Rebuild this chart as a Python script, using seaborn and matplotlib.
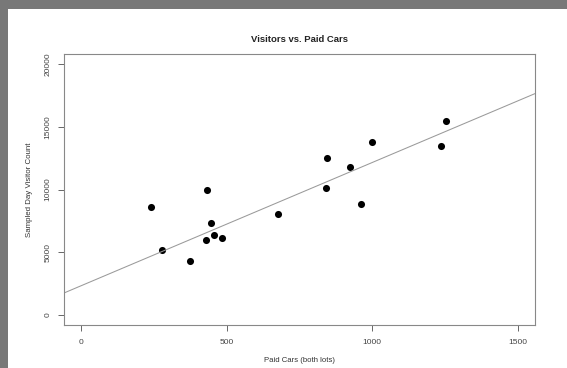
import seaborn as sns
import matplotlib.pyplot as plt
import matplotlib.patches as mpatches
import pandas as pd

# Values
paid_cars = [240, 278, 372, 431, 430, 445, 457, 485, 677,
             843, 841, 924, 963, 1000, 1238, 1255]
visitors = [8570, 5213, 4270, 9995, 5964, 7308, 6340, 6126, 8034,
            12493, 10130, 11768, 8840, 13806, 13484, 15450]
x_ticks = [0, 500, 1000, 1500]
y_ticks = [0, 5000, 10000, 15000, 20000]
# fitted line as drawn in the reference (abline)
fit_intercept = 2340
fit_slope = 9.81

data = pd.DataFrame({"paid_cars": paid_cars, "visitors": visitors})

sns.set_style("white")
plt.rcParams["font.family"] = ["Liberation Sans", "DejaVu Sans"]

fig = plt.figure(figsize=(5.67, 3.68), dpi=100, facecolor="#787878")
# white page inside the grey frame
page = mpatches.Rectangle((8 / 567, 0), 1, 1 - 9 / 368, transform=fig.transFigure,
                          facecolor="white", edgecolor="none", zorder=-10)
fig.add_artist(page)

ax = fig.add_axes([64 / 567, 1 - 325 / 368, 471 / 567, 271 / 368], zorder=1)
ax.patch.set_alpha(0)

sns.scatterplot(data=data, x="paid_cars", y="visitors", ax=ax,
                s=26, color="black", linewidth=0, alpha=1)
ax.axline((0, fit_intercept), slope=fit_slope, color="#9a9a9a", lw=0.75)
ax.set_xlim(-60, 1560)
ax.set_ylim(-800, 20800)

ax.set_xticks(x_ticks)
ax.set_xticklabels([str(v) for v in x_ticks])
ax.set_yticks(y_ticks)
ax.set_yticklabels([str(v) for v in y_ticks], rotation=90, va="center")
ax.tick_params(direction="out", length=4, width=0.7, color="#666666",
               labelsize=6, labelcolor="#444444", bottom=True, left=True)
ax.tick_params(axis="x", pad=6)
ax.tick_params(axis="y", pad=5)
for s in ax.spines.values():
    s.set_color("#888888")
    s.set_linewidth(0.8)

ax.set_xlabel("Paid Cars (both lots)", fontsize=5.6, color="#333333", labelpad=8)
ax.set_ylabel("Sampled Day Visitor Count", fontsize=5.7, color="#333333", labelpad=8)
ax.set_title("Visitors vs. Paid Cars", fontsize=6.8, fontweight="bold",
             color="#222222", pad=9)

fig.savefig("out.png", dpi=100, facecolor=fig.get_facecolor())
